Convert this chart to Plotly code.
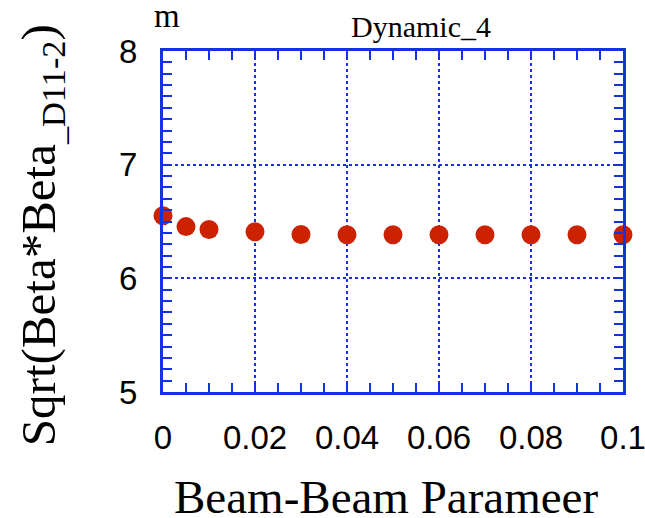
import plotly.graph_objects as go

# Beam-beam parameter scan and resulting sqrt(beta*beta) values (m)
beam_beam = [0.0, 0.005, 0.01, 0.02, 0.03, 0.04, 0.05, 0.06, 0.07, 0.08, 0.09, 0.1]
sqrt_beta = [6.55, 6.455, 6.43, 6.41, 6.386, 6.384, 6.384, 6.384, 6.384, 6.384, 6.384, 6.384]

x_ticks = [0, 0.02, 0.04, 0.06, 0.08, 0.1]
x_labels = ["0", "0.02", "0.04", "0.06", "0.08", "0.1"]
y_ticks = [5, 6, 7, 8]

BLUE = "#1533dc"
RED = "#cc2200"

fig = go.Figure(
    go.Scatter(
        x=beam_beam,
        y=sqrt_beta,
        mode="markers",
        marker=dict(size=19, color=RED, line=dict(width=0)),
        cliponaxis=False,
    )
)

axis_common = dict(
    showline=True,
    linecolor=BLUE,
    linewidth=3,
    mirror="allticks",
    ticks="inside",
    ticklen=9,
    tickwidth=2,
    tickcolor=BLUE,
    showgrid=True,
    gridcolor=BLUE,
    gridwidth=2,
    griddash="dot",
    zeroline=False,
    automargin=False,
    ticklabeloverflow="allow",
    tickfont=dict(family="Liberation Sans, Arial, sans-serif", size=33, color="black"),
)

fig.update_xaxes(
    range=[0, 0.1000001],
    tickvals=x_ticks,
    ticktext=x_labels,
    ticklabelstandoff=14,
    minor=dict(dtick=0.005, ticks="inside", ticklen=9, tickwidth=2, tickcolor=BLUE, showgrid=False),
    **axis_common,
)
fig.update_yaxes(
    range=[5, 8],
    tickvals=y_ticks,
    ticklabelstandoff=16,
    minor=dict(dtick=0.1, ticks="inside", ticklen=9, tickwidth=2, tickcolor=BLUE, showgrid=False),
    **axis_common,
)

serif = "Liberation Serif, Times New Roman, serif"

fig.update_layout(
    width=645,
    height=518,
    margin=dict(l=163, r=22, t=51, b=126, autoexpand=False),
    paper_bgcolor="white",
    plot_bgcolor="white",
    showlegend=False,
    annotations=[
        dict(text="Dynamic_4", xref="paper", yref="paper", x=0.56, y=1.0, yshift=6,
             xanchor="center", yanchor="bottom", showarrow=False,
             font=dict(family=serif, size=30, color="black")),
        dict(text="m", xref="paper", yref="paper", x=0.0, y=1.0, yshift=15, xshift=4,
             xanchor="center", yanchor="bottom", showarrow=False,
             font=dict(family=serif, size=33, color="black")),
        dict(text="Beam-Beam Parameer", xref="paper", yref="paper", x=0.485, y=0.0, yshift=-77,
             xanchor="center", yanchor="top", showarrow=False,
             font=dict(family=serif, size=47, color="black")),
        dict(text="Sqrt(Beta*Beta<sub>_D11-2</sub>)", xref="paper", yref="paper",
             x=0.0, y=0.46, xshift=-122, textangle=-90,
             xanchor="center", yanchor="middle", showarrow=False,
             font=dict(family=serif, size=49, color="black")),
    ],
)

fig.write_html("out.html")
